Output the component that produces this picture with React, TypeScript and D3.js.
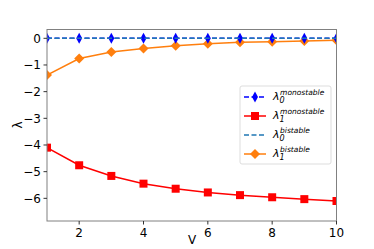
import React, { useEffect, useRef } from "react";
import * as d3 from "d3";

const vValues = [1, 2, 3, 4, 5, 6, 7, 8, 9, 10];
const mono0 = [0, 0, 0, 0, 0, 0, 0, 0, 0, 0];
const mono1 = [-4.1, -4.76, -5.16, -5.45, -5.64, -5.78, -5.88, -5.96, -6.03, -6.1];
const bi0 = [0, 0, 0, 0, 0, 0, 0, 0, 0, 0];
const bi1 = [-1.38, -0.76, -0.51, -0.38, -0.28, -0.2, -0.15, -0.13, -0.1, -0.07];
const xTicks = [2, 4, 6, 8, 10];
const yTicks = [0, -1, -2, -3, -4, -5, -6];

const W = 374;
const H = 249;
const FONT = "DejaVu Sans, sans-serif";

function App() {
  const ref = useRef<SVGSVGElement>(null);

  useEffect(() => {
    const svg = d3.select(ref.current);
    svg.selectAll("*").remove();

    const x = d3.scaleLinear().domain([1, 10]).range([47, 336.5]);
    const y = d3.scaleLinear().domain([-6.85, 0.33]).range([221, 29.5]);

    svg.append("rect").attr("width", W).attr("height", H).attr("fill", "#fff");

    svg
      .append("defs")
      .append("clipPath")
      .attr("id", "plot-clip")
      .append("rect")
      .attr("x", 47)
      .attr("y", 29.5)
      .attr("width", 289.5)
      .attr("height", 191.5);

    const plot = svg.append("g").attr("clip-path", "url(#plot-clip)");
    const line = d3
      .line<number>()
      .x((_, i) => x(vValues[i]))
      .y((d) => y(d));

    const diamond = (w: number, h: number) =>
      `M0,${-h / 2}L${w / 2},0L0,${h / 2}L${-w / 2},0Z`;

    // red squares
    plot.append("path").attr("d", line(mono1)).attr("fill", "none").attr("stroke", "#ff0000").attr("stroke-width", 1.5);
    plot
      .selectAll(".sq")
      .data(mono1)
      .enter()
      .append("rect")
      .attr("x", (_, i) => x(vValues[i]) - 4)
      .attr("y", (d) => y(d) - 4)
      .attr("width", 8)
      .attr("height", 8)
      .attr("fill", "#ff0000");

    // orange diamonds
    plot.append("path").attr("d", line(bi1)).attr("fill", "none").attr("stroke", "#ff7f0e").attr("stroke-width", 1.5);
    plot
      .selectAll(".od")
      .data(bi1)
      .enter()
      .append("path")
      .attr("d", diamond(10, 10))
      .attr("transform", (d, i) => `translate(${x(vValues[i])},${y(d)})`)
      .attr("fill", "#ff7f0e");

    // blue mono
    plot
      .append("path")
      .attr("d", line(mono0))
      .attr("fill", "none")
      .attr("stroke", "#0000ff")
      .attr("stroke-width", 1.5)
      .attr("stroke-dasharray", "5,2.5");
    plot
      .selectAll(".bd")
      .data(mono0)
      .enter()
      .append("path")
      .attr("d", diamond(6, 11))
      .attr("transform", (d, i) => `translate(${x(vValues[i])},${y(d)})`)
      .attr("fill", "#0000ff");

    // bistable lambda0
    plot
      .append("path")
      .attr("d", line(bi0))
      .attr("fill", "none")
      .attr("stroke", "#1f77b4")
      .attr("stroke-width", 1.5)
      .attr("stroke-dasharray", "5,2.5");

    // frame
    svg
      .append("rect")
      .attr("x", 47)
      .attr("y", 29.5)
      .attr("width", 289.5)
      .attr("height", 191.5)
      .attr("fill", "none")
      .attr("stroke", "#808080")
      .attr("stroke-width", 1);

    const xAxis = svg.append("g").attr("transform", "translate(0,221)");
    xTicks.forEach((t) => {
      xAxis.append("line").attr("x1", x(t)).attr("x2", x(t)).attr("y1", 0).attr("y2", 3.5).attr("stroke", "#333");
      xAxis
        .append("text")
        .attr("x", x(t))
        .attr("y", 16)
        .attr("text-anchor", "middle")
        .attr("font-family", FONT)
        .attr("font-size", 12)
        .text(String(t));
    });

    const yAxis = svg.append("g").attr("transform", "translate(47,0)");
    yTicks.forEach((t) => {
      yAxis.append("line").attr("x1", -3.5).attr("x2", 0).attr("y1", y(t)).attr("y2", y(t)).attr("stroke", "#333");
      yAxis
        .append("text")
        .attr("x", -6)
        .attr("y", y(t))
        .attr("dy", "0.35em")
        .attr("text-anchor", "end")
        .attr("font-family", FONT)
        .attr("font-size", 12)
        .text(t === 0 ? "0" : "\u2212" + Math.abs(t));
    });

    svg
      .append("text")
      .attr("x", 192)
      .attr("y", 244)
      .attr("text-anchor", "middle")
      .attr("font-family", FONT)
      .attr("font-size", 12)
      .text("V");
    svg
      .append("text")
      .attr("transform", "translate(22,125) rotate(-90)")
      .attr("text-anchor", "middle")
      .attr("font-family", FONT)
      .attr("font-size", 12)
      .text("λ");

    // legend
    const lg = svg.append("g");
    lg.append("rect")
      .attr("x", 240)
      .attr("y", 86)
      .attr("width", 91)
      .attr("height", 78)
      .attr("rx", 2)
      .attr("fill", "#fff")
      .attr("fill-opacity", 0.8)
      .attr("stroke", "#ddd");
    const entries = [
      { sub: "0", sup: "monostable", kind: "mono0" },
      { sub: "1", sup: "monostable", kind: "mono1" },
      { sub: "0", sup: "bistable", kind: "bi0" },
      { sub: "1", sup: "bistable", kind: "bi1" },
    ];
    entries.forEach((e, i) => {
      const cy = 97 + i * 19;
      const x0 = 244;
      const x1 = 266;
      const mid = (x0 + x1) / 2;
      if (e.kind === "mono0") {
        lg.append("line").attr("x1", x0).attr("x2", x1).attr("y1", cy).attr("y2", cy).attr("stroke", "#0000ff").attr("stroke-width", 1.5).attr("stroke-dasharray", "5,2.5");
        lg.append("path").attr("d", diamond(6, 11)).attr("transform", `translate(${mid},${cy})`).attr("fill", "#0000ff");
      } else if (e.kind === "mono1") {
        lg.append("line").attr("x1", x0).attr("x2", x1).attr("y1", cy).attr("y2", cy).attr("stroke", "#ff0000").attr("stroke-width", 1.5);
        lg.append("rect").attr("x", mid - 4).attr("y", cy - 4).attr("width", 8).attr("height", 8).attr("fill", "#ff0000");
      } else if (e.kind === "bi0") {
        lg.append("line").attr("x1", x0).attr("x2", x1).attr("y1", cy).attr("y2", cy).attr("stroke", "#1f77b4").attr("stroke-width", 1.5).attr("stroke-dasharray", "5,2.5");
      } else {
        lg.append("line").attr("x1", x0).attr("x2", x1).attr("y1", cy).attr("y2", cy).attr("stroke", "#ff7f0e").attr("stroke-width", 1.5);
        lg.append("path").attr("d", diamond(10, 10)).attr("transform", `translate(${mid},${cy})`).attr("fill", "#ff7f0e");
      }
      const t = lg
        .append("text")
        .attr("x", 273)
        .attr("y", cy + 3)
        .attr("font-family", FONT)
        .attr("font-style", "italic");
      t.append("tspan").attr("font-size", 11).text("λ");
      t.append("tspan").attr("font-size", 8).attr("dy", 3).text(e.sub);
      t.append("tspan").attr("font-size", 7.5).attr("dx", -4.5).attr("dy", -8).text(e.sup);
    });
  }, []);

  return <svg ref={ref} width={W} height={H} style={{ position: "absolute", left: 0, top: 0 }} />;
}

export default App;
